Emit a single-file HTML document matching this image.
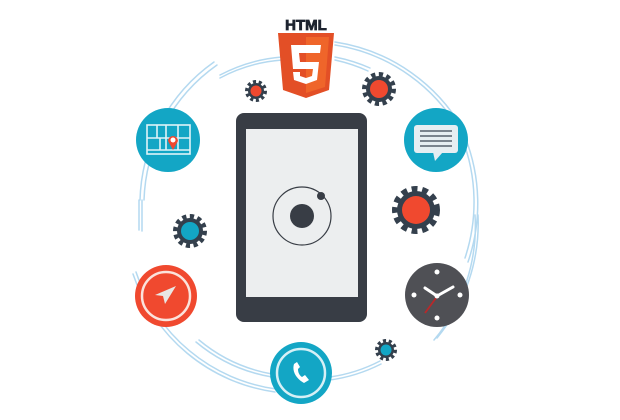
<!DOCTYPE html>
<html><head><meta charset="utf-8"><style>
html,body{margin:0;padding:0;background:#fff;width:620px;height:420px;overflow:hidden}
</style></head><body>
<svg width="620" height="420" viewBox="0 0 620 420" xmlns="http://www.w3.org/2000/svg">
<!-- orbit arcs (double lines) -->
<g fill="none" stroke="#b4d9f0" stroke-width="1.5" stroke-linecap="round">
  <path d="M214 62 A175 175 0 0 0 140 200"/>
  <path d="M217 65 A172 172 0 0 0 144 200"/>
  <path d="M220 75 A160 160 0 0 1 282 57"/>
  <path d="M220 78 A157 157 0 0 1 282 60"/>
  <path d="M335 42 A178 178 0 0 1 466 135"/>
  <path d="M335 45 A175 175 0 0 1 463 137"/>
  <path d="M335 57 A170 170 0 0 1 370 68"/>
  <path d="M335 60 A167 167 0 0 1 368 71"/>
  <path d="M139 200 L139 230"/><path d="M142 200 L142 231"/>
  <path d="M465 137 A180 180 0 0 1 468 262"/>
  <path d="M462 138 A177 177 0 0 1 465 258"/>
  <path d="M478 215 A180 180 0 0 1 437 338"/>
  <path d="M475 215 A177 177 0 0 1 434 340"/>
  <path d="M133 274 A175 175 0 0 0 275 392"/>
  <path d="M136 272 A172 172 0 0 0 276 389"/>
  <path d="M196 342 A160 160 0 0 0 272 377"/>
  <path d="M199 340 A157 157 0 0 0 272 374"/>
  <path d="M330 380 A160 160 0 0 0 381 364"/>
  <path d="M330 377 A157 157 0 0 0 380 361"/>
</g>
<!-- tablet -->
<rect x="236" y="113" width="131" height="209" rx="8" fill="#383d45"/>
<rect x="246" y="129" width="112" height="168" fill="#eceeef"/>
<circle cx="302" cy="216" r="29" fill="none" stroke="#383d45" stroke-width="1.2"/>
<circle cx="302" cy="216" r="12" fill="#383d45"/>
<circle cx="321" cy="196" r="4" fill="#383d45"/>
<!-- HTML5 -->
<text x="306" y="30" text-anchor="middle" font-family="Liberation Sans, sans-serif" font-weight="bold" font-size="15" fill="#1e2530" stroke="#1e2530" stroke-width="0.8">HTML</text>
<path d="M278 33 L334 33 L329 90 L306 98 L283 90 Z" fill="#e34f26"/>
<path d="M306 37 L329 37 L325 87 L306 93 Z" fill="#ef652a"/>
<path d="M291 45 L321 45 L320 53 L299 53 L300 62 L319 62 L317 80 L306 84 L294 80 L293 72 L300 72 L300 76 L306 78 L312 76 L313 69 L293 69 Z" fill="#fff"/>
<!-- gears -->
<g>
  <circle cx="256" cy="91" r="9" fill="none" stroke="#34404d" stroke-width="4" stroke-dasharray="3 2.6"/>
  <circle cx="256" cy="91" r="8" fill="#34404d"/><circle cx="256" cy="91" r="5.5" fill="#f0492f"/>
  <circle cx="379" cy="89" r="14" fill="none" stroke="#34404d" stroke-width="6" stroke-dasharray="4 3.3"/>
  <circle cx="379" cy="89" r="13" fill="#34404d"/><circle cx="379" cy="89" r="9" fill="#f0492f"/>
  <circle cx="416" cy="210" r="20" fill="none" stroke="#34404d" stroke-width="8" stroke-dasharray="5.5 4.5"/>
  <circle cx="416" cy="210" r="19" fill="#34404d"/><circle cx="416" cy="210" r="14" fill="#f0492f"/>
  <circle cx="190" cy="231" r="14" fill="none" stroke="#34404d" stroke-width="6" stroke-dasharray="4 3.3"/>
  <circle cx="190" cy="231" r="13" fill="#34404d"/><circle cx="190" cy="231" r="9" fill="#13a6c5"/>
  <circle cx="386" cy="350" r="9" fill="none" stroke="#34404d" stroke-width="4" stroke-dasharray="3 2.6"/>
  <circle cx="386" cy="350" r="8" fill="#34404d"/><circle cx="386" cy="350" r="5.5" fill="#13a6c5"/>
</g>
<!-- map -->
<circle cx="168" cy="140" r="32" fill="#13a6c5"/>
<g fill="none" stroke="#dff3f8" stroke-width="1.6">
<rect x="147" y="125" width="43" height="29"/>
<path d="M147 138 H190 M147 150 H190 M157 125 V138 M166 125 V150 M178 125 V150 M160 138 V150"/>
</g>
<path d="M173 150 L168 141 A5 5 0 1 1 178 141 Z" fill="#f0492f"/>
<circle cx="173" cy="140" r="2.5" fill="#fff"/>
<!-- message -->
<circle cx="436" cy="140" r="32" fill="#13a6c5"/>
<rect x="414" y="125" width="44" height="28" rx="3" fill="#e6eef2"/>
<path d="M433 152 L435 161 L443 152 Z" fill="#e6eef2"/>
<g stroke="#394552" stroke-width="1.2"><path d="M420 131 H452 M420 136 H452 M420 141 H452 M420 146 H452"/></g>
<!-- compass -->
<circle cx="166" cy="296" r="31" fill="#f0492f"/>
<circle cx="166" cy="296" r="24" fill="none" stroke="#fbe3dc" stroke-width="2.5"/>
<path d="M176 286 L155 295 L163 296 L165 304 Z" fill="#e9e6e4"/>
<!-- clock -->
<circle cx="437" cy="295" r="32" fill="#4f5055"/>
<g fill="#fff"><circle cx="437" cy="272" r="2.5"/><circle cx="437" cy="318" r="2.5"/><circle cx="414" cy="295" r="2.5"/><circle cx="460" cy="295" r="2.5"/></g>
<path d="M437 296 L425 288 M437 296 L453 287" stroke="#fff" stroke-width="3" stroke-linecap="round"/>
<path d="M436 298 L425 313" stroke="#b8282a" stroke-width="1.8"/>
<circle cx="437" cy="296" r="2.5" fill="#fff"/>
<!-- phone -->
<circle cx="301" cy="373" r="31" fill="#13a6c5"/>
<circle cx="301" cy="373" r="24" fill="none" stroke="#d6f0f6" stroke-width="2.5"/>
<path d="M294 364 C292 370 295 378 304 383 L309 380 L305 375 L302 377 C299 375 298 372 298 369 L300 367 L297 362 Z" fill="#fff"/>
</svg>
</body></html>
